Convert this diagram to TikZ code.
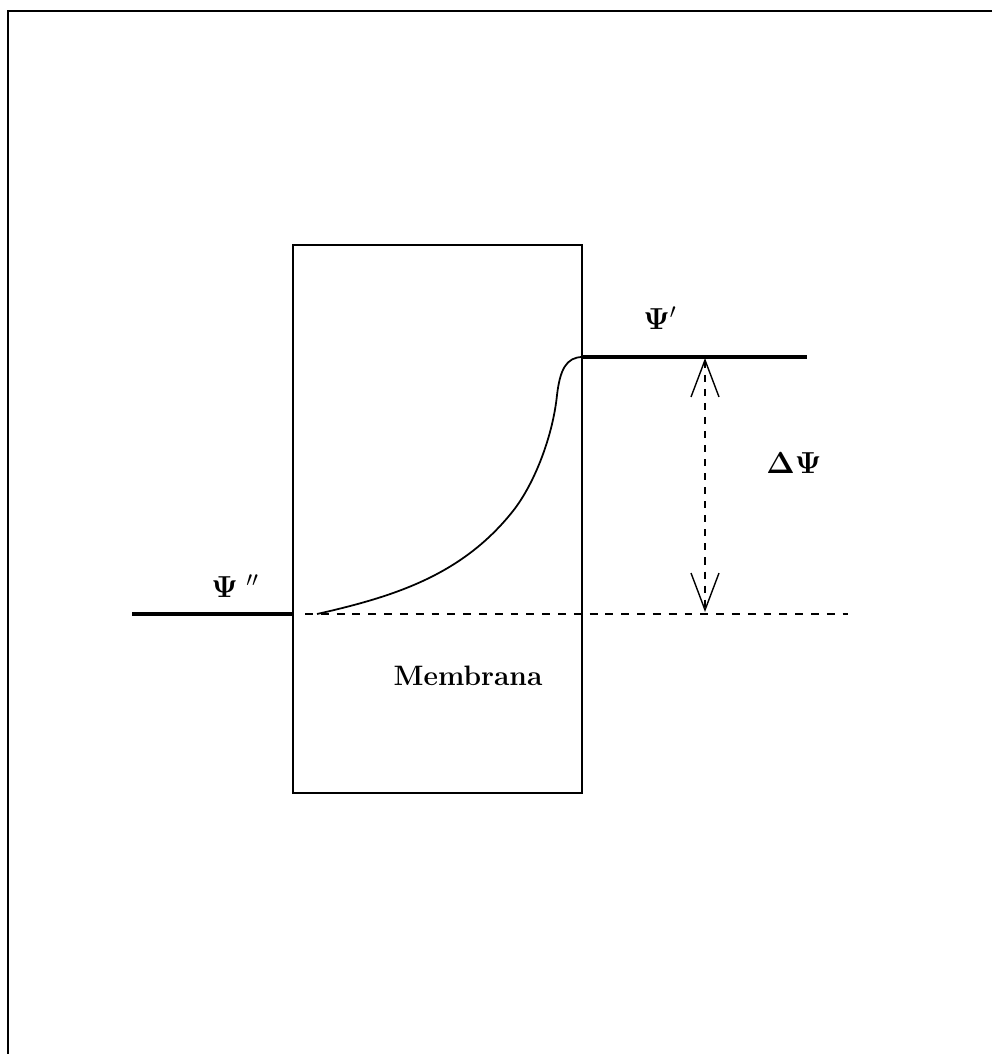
\documentclass[tikz,border=0pt]{standalone}
\usepackage{amsmath}
\usepackage{tikz}
\usetikzlibrary{
  arrows.meta,
  positioning
}
\tikzset{
  frameLine/.style={
    line width=1.1pt,
    draw=black
  },
  memBox/.style={
    rectangle,
    draw=black,
    line width=0.9pt,
    minimum width=5.78cm,
    minimum height=10.96cm,
    inner sep=0pt
  },
  levelLine/.style={
    line width=2.3pt,
    draw=black
  },
  baseLine/.style={
    dash pattern=on 4.5pt off 4.5pt,
    line width=0.9pt,
    draw=black
  },
  potCurve/.style={
    line width=1pt,
    draw=black
  },
  dimArrow/.style={
    {Straight Barb[length=0.74cm,width=0.56cm]}-{Straight Barb[length=0.74cm,width=0.56cm]},
    dash pattern=on 4pt off 4pt,
    line width=0.8pt,
    draw=black
  },
  potLabel/.style={
    inner sep=0pt,
    font=\fontsize{18}{20}\selectfont
  },
  memLabel/.style={
    inner sep=0pt,
    font=\fontsize{16}{18}\selectfont\bfseries
  }
}

\begin{document}
\begin{tikzpicture}[x=0.02cm, y=-0.02cm]
  \useasboundingbox (0,0) rectangle (992,1054);

  % open frame
  \coordinate (frameTop) at (992,11);
  \coordinate (frameCorner) at (8,11);
  \coordinate (frameBot) at (8,1054);
  \draw[frameLine] (frameTop) -- (frameCorner) -- (frameBot);

  \node[memBox] (membrane) at (437.5,519) {};

  % potential levels
  \coordinate (outerL) at (132,614);
  \coordinate (innerL) at (membrane.west |- outerL);
  \coordinate (innerR) at (membrane.east |- 0,357);
  \coordinate (outerR) at (807,357);
  \draw[levelLine] (outerL) -- (innerL);
  \draw[levelLine] (innerR) -- (outerR);

  \coordinate (baseStart) at (305,614);
  \coordinate (baseEnd) at (848,614);
  \draw[baseLine] (baseStart) -- (baseEnd);

  \coordinate (curveStart) at (317,614);
  \draw[potCurve] (curveStart)
    .. controls (397,596) and (463,574) .. (513,511)
    .. controls (535,483) and (553,435) .. (557,395)
    .. controls (560,370) and (566,357) .. (innerR);

  % difference arrow
  \coordinate (dimTop) at (705,358);
  \coordinate (dimBot) at (705,612);
  \draw[dimArrow] (dimTop) -- (dimBot);

  \node[potLabel, anchor=west] (psiOut) at (643,318) {$\mathbf{\Psi}'$};
  \node[potLabel, anchor=west] (psiIn) at (211,586) {$\mathbf{\Psi}\;''$};
  \node[potLabel] (dPsi) at (794,463) {$\mathbf{\Delta\Psi}$};
  \node[memLabel] (memName) at (468,676) {Membrana};
\end{tikzpicture}
\end{document}
